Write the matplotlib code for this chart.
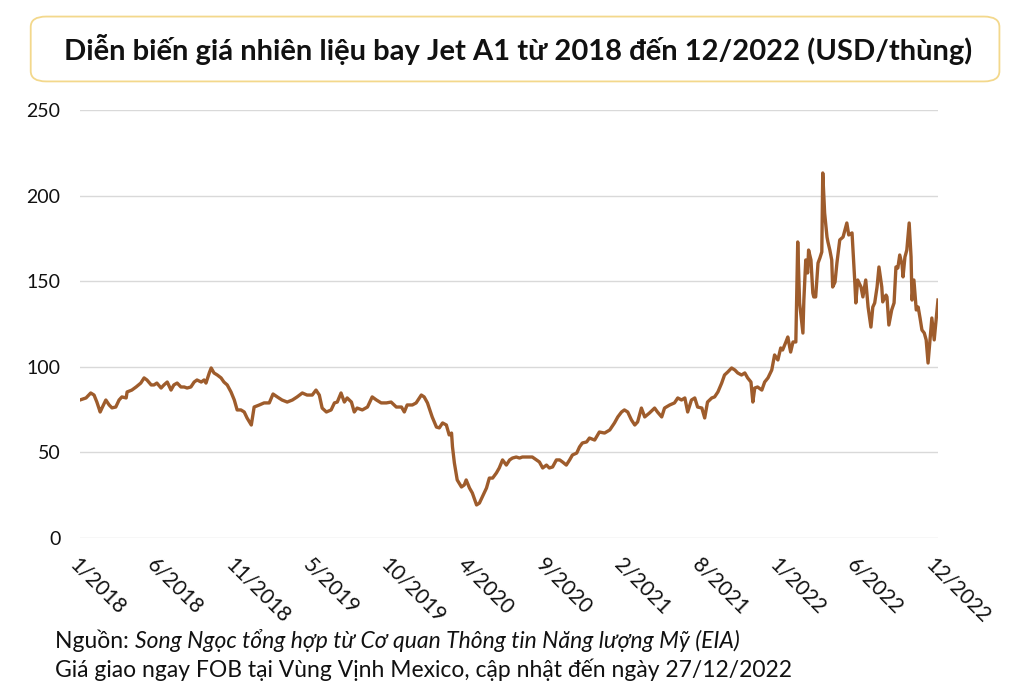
import matplotlib
matplotlib.use('Agg')
import matplotlib.pyplot as plt
from matplotlib.patches import FancyBboxPatch
import numpy as np
import datetime as dt

plt.rcParams['font.family'] = ['Lato', 'DejaVu Sans']

# day offset from 2018-01-02, price in USD/barrel
days = [2, 15, 25, 32, 38, 45, 49, 57, 64, 70, 78, 85, 91, 100, 102, 112, 121, 131, 138, 144,
        153, 159, 165, 174, 180, 187, 195, 201, 208, 216, 223, 229, 237, 244, 250, 259, 265, 269, 276, 280,
        286, 293, 301, 307, 314, 322, 329, 335, 343, 350, 356, 365, 371, 382, 392, 403, 411, 420, 430, 441,
        452, 462, 473, 483, 494, 502, 509, 515, 524, 534, 541, 547, 555, 562, 568, 577, 583, 589, 600, 611,
        621, 630, 640, 651, 661, 672, 683, 689, 695, 706, 714, 725, 731, 738, 748, 757, 763, 770, 778, 784,
        789, 791, 795, 801, 810, 816, 820, 827, 833, 842, 848, 854, 863, 869, 876, 884, 890, 897, 905, 912,
        918, 926, 933, 939, 948, 960, 969, 975, 982, 990, 996, 1003, 1011, 1018, 1024, 1032, 1039, 1045, 1054, 1060,
        1066, 1075, 1081, 1092, 1102, 1113, 1124, 1134, 1141, 1149, 1155, 1162, 1170, 1177, 1183, 1191, 1198, 1208, 1219, 1225,
        1234, 1240, 1251, 1261, 1268, 1276, 1283, 1289, 1297, 1304, 1310, 1319, 1325, 1331, 1340, 1346, 1353, 1361, 1367, 1374,
        1382, 1389, 1395, 1403, 1410, 1416, 1423, 1427, 1431, 1437, 1446, 1452, 1459, 1467, 1473, 1480, 1486, 1490, 1497, 1501,
        1507, 1512, 1518, 1522, 1526, 1533, 1535, 1539, 1543, 1545, 1550, 1554, 1556, 1560, 1565, 1569, 1573, 1575, 1579, 1584,
        1586, 1590, 1594, 1596, 1601, 1605, 1611, 1618, 1626, 1630, 1637, 1643, 1645, 1649, 1656, 1660, 1666, 1671, 1677, 1681,
        1685, 1690, 1694, 1700, 1702, 1709, 1711, 1715, 1721, 1726, 1730, 1734, 1738, 1743, 1745, 1749, 1753, 1758, 1762, 1764,
        1768, 1773, 1777, 1781, 1785, 1790, 1794, 1798, 1802, 1806, 1811, 1815, 1819]
price = [80.6, 81.8, 84.7, 83.5, 79.4, 73.6, 76.0, 80.6, 77.7, 76.0, 76.5, 80.6, 82.4, 81.8, 85.3, 86.4, 88.2, 90.5, 93.5, 92.3,
         89.4, 89.4, 90.5, 87.6, 89.4, 91.1, 86.4, 89.4, 90.5, 88.2, 88.2, 87.6, 88.2, 91.1, 92.3, 91.1, 92.3, 90.5, 96.4, 99.3,
         96.4, 95.2, 93.5, 91.1, 89.4, 85.3, 80.6, 74.8, 74.8, 73.6, 70.1, 66.0, 76.5, 77.7, 78.9, 78.9, 84.1, 82.4, 80.6, 79.4,
         80.6, 82.4, 84.7, 83.5, 83.5, 86.4, 83.5, 75.9, 73.6, 74.8, 78.9, 79.4, 84.7, 79.4, 81.8, 79.4, 73.6, 75.9, 74.8, 76.5,
         82.4, 80.6, 78.9, 78.9, 79.4, 76.5, 76.5, 73.6, 77.7, 77.7, 78.9, 83.5, 82.4, 78.9, 70.7, 64.8, 64.3, 67.2, 66.0, 60.2,
         61.3, 53.2, 43.8, 33.9, 29.8, 31.0, 33.9, 29.2, 26.3, 19.3, 20.4, 23.9, 29.2, 35.0, 35.0, 38.0, 40.9, 45.6, 42.6, 45.6,
         46.7, 47.3, 46.7, 47.3, 47.3, 47.3, 45.6, 44.4, 40.9, 42.6, 40.9, 41.5, 45.6, 45.6, 44.4, 42.6, 45.6, 48.5, 49.6, 53.2,
         55.5, 56.1, 58.4, 57.2, 61.9, 61.3, 63.1, 67.2, 70.7, 73.6, 74.8, 73.6, 68.9, 66.0, 67.8, 75.9, 70.7, 73.0, 75.9, 73.6,
         70.7, 75.9, 77.7, 78.9, 81.8, 80.6, 81.8, 73.6, 80.6, 81.8, 76.5, 75.9, 70.1, 79.4, 81.8, 82.4, 85.3, 90.5, 95.2, 97.0,
         99.3, 98.1, 96.4, 95.2, 96.4, 93.5, 91.1, 79.4, 87.6, 88.2, 86.4, 91.1, 93.5, 98.1, 106.9, 104.0, 111.0, 109.8, 114.5, 117.4,
         108.6, 114.5, 114.5, 172.9, 137.3, 119.7, 139.0, 162.4, 154.8, 168.2, 162.4, 143.1, 140.8, 140.8, 160.6, 163.6, 167.1, 213.2, 189.8, 175.8,
         172.9, 168.2, 162.4, 146.6, 149.5, 160.6, 174.1, 175.8, 184.0, 177.0, 178.2, 148.9, 137.3, 150.7, 146.6, 140.8, 150.7, 134.9, 123.2, 134.9,
         137.3, 146.6, 158.3, 146.6, 137.9, 141.9, 140.8, 124.4, 133.2, 137.3, 158.3, 157.7, 165.3, 159.5, 152.5, 164.1, 168.2, 184.0, 164.1, 139.0,
         150.7, 133.2, 134.9, 128.5, 121.5, 119.7, 115.7, 102.2, 115.7, 128.5, 115.7, 127.3, 139.0]

tick_labels = ['1/2018', '6/2018', '11/2018', '5/2019', '10/2019', '4/2020',
               '9/2020', '2/2021', '8/2021', '1/2022', '6/2022', '12/2022']

start = dt.date(2018, 1, 2)
dates = [start + dt.timedelta(days=d) for d in days]

fig = plt.figure(figsize=(10.24, 6.9), dpi=100)
ax = fig.add_axes([0.078, 0.2203, 0.838, 0.6203])

ax.plot(dates, price, color='#9E5C2C', linewidth=2.4, solid_joinstyle='round')

ax.set_ylim(0, 250)
ax.set_yticks(range(0, 251, 50))
ax.set_xlim(dates[0], dates[-1])
for s in ax.spines.values():
    s.set_visible(False)
ax.grid(axis='y', color='#D9D9D9', linewidth=1.0)
ax.set_axisbelow(True)
ax.tick_params(axis='y', length=0, pad=14, labelsize=14, labelcolor='#111111')

xmin, xmax = ax.get_xlim()
ax.set_xticks(np.linspace(xmin, xmax - 5, len(tick_labels)))
ax.set_xticklabels(tick_labels, rotation=-45, ha='left', va='top', rotation_mode='anchor')
ax.tick_params(axis='x', length=0, pad=12, labelsize=15, labelcolor='#111111')

# title box
box = FancyBboxPatch((0.03, 0.882), 0.946, 0.094, transform=fig.transFigure,
                     boxstyle='round,pad=0,rounding_size=0.015', facecolor='white',
                     edgecolor='#F3D88C', linewidth=1.3)
fig.patches.append(box)
fig.text(0.506, 0.928, 'Diễn biến giá nhiên liệu bay Jet A1 từ 2018 đến 12/2022 (USD/thùng)',
         ha='center', va='center', fontsize=21, fontweight='bold', color='#111111')

# footer
t1 = fig.text(0.054, 0.061, 'Nguồn: ', fontsize=16.5, color='#111111', va='baseline')
fig.canvas.draw()
bb = t1.get_window_extent()
fig.text(bb.x1 / fig.bbox.width, 0.061, 'Song Ngọc tổng hợp từ Cơ quan Thông tin Năng lượng Mỹ (EIA)',
         fontsize=16.5, style='italic', color='#111111', va='baseline')
fig.text(0.054, 0.019, 'Giá giao ngay FOB tại Vùng Vịnh Mexico, cập nhật đến ngày 27/12/2022',
         fontsize=16.5, color='#111111', va='baseline')

fig.savefig('out.png', dpi=100)
